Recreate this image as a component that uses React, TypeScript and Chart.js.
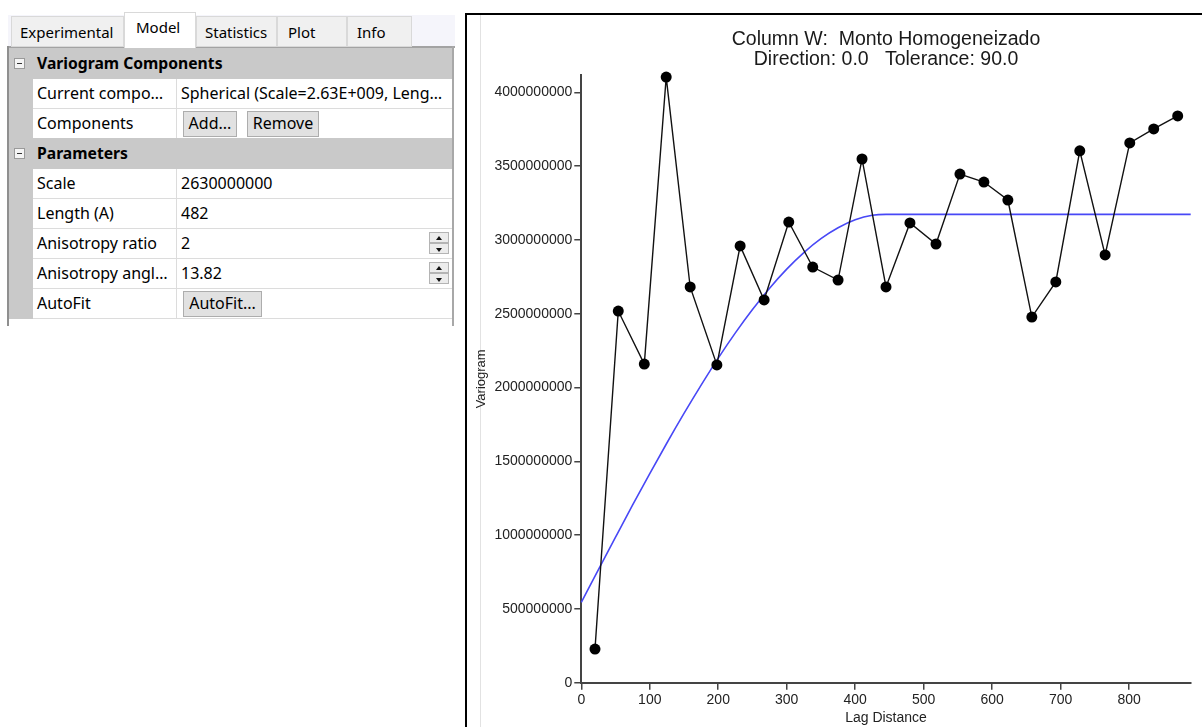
import React, { useEffect, useRef } from 'react';
import { Chart, registerables } from 'chart.js';

Chart.register(...registerables);

// ---- data ----
const lagDistance = [20, 54, 92, 124, 159, 198, 232, 267, 303, 338, 375, 410, 445, 480, 518, 553, 588, 623, 658, 693, 728, 765, 801, 836, 871];
const variogramValues = [
  228000000, 2518000000, 2159000000, 4103000000, 2681000000, 2153000000, 2959000000, 2593000000,
  3121000000, 2816000000, 2728000000, 3548000000, 2681000000, 3115000000, 2972000000, 3446000000,
  3392000000, 3270000000, 2477000000, 2715000000, 3603000000, 2898000000, 3657000000, 3752000000, 3840000000,
];
const modelLag = [0, 25, 50, 75, 100, 125, 150, 175, 200, 225, 250, 275, 300, 325, 350, 375, 400, 425, 445, 890];
const modelValues = [
  545000000, 766000000, 986000000, 1204000000, 1417000000, 1624000000, 1824000000, 2016000000, 2199000000,
  2370000000, 2528000000, 2673000000, 2802000000, 2914000000, 3008000000, 3082000000, 3136000000, 3167000000,
  3173000000, 3173000000,
];
const xTickValues = [0, 100, 200, 300, 400, 500, 600, 700, 800];
const yTickValues = [0, 500000000, 1000000000, 1500000000, 2000000000, 2500000000, 3000000000, 3500000000, 4000000000];
const titleLines = ['Column W:  Monto Homogeneizado', 'Direction: 0.0   Tolerance: 90.0'];
const xTitle = 'Lag Distance';
const yTitle = 'Variogram';

const tabs = [
  { label: 'Experimental', left: 11, width: 113, textLeft: 8 },
  { label: 'Model', left: 124, width: 72, textLeft: 11, selected: true },
  { label: 'Statistics', left: 196, width: 81, textLeft: 8 },
  { label: 'Plot', left: 277, width: 70, textLeft: 10 },
  { label: 'Info', left: 347, width: 65, textLeft: 9 },
];

type Row =
  | { kind: 'cat'; label: string }
  | { kind: 'row'; label: string; value?: string; buttons?: { text: string; width: number; gap?: number }[]; spinner?: boolean };

const gridRows: Row[] = [
  { kind: 'cat', label: 'Variogram Components' },
  { kind: 'row', label: 'Current compo\u2026', value: 'Spherical (Scale=2.63E+009, Leng\u2026' },
  { kind: 'row', label: 'Components', buttons: [{ text: 'Add...', width: 54 }, { text: 'Remove', width: 72, gap: 10 }] },
  { kind: 'cat', label: 'Parameters' },
  { kind: 'row', label: 'Scale', value: '2630000000' },
  { kind: 'row', label: 'Length (A)', value: '482' },
  { kind: 'row', label: 'Anisotropy ratio', value: '2', spinner: true },
  { kind: 'row', label: 'Anisotropy angl\u2026', value: '13.82', spinner: true },
  { kind: 'row', label: 'AutoFit', buttons: [{ text: 'AutoFit...', width: 79 }] },
];

const UI_FONT = '"Noto Sans", "Open Sans", sans-serif';
const CH_FONT = '"Liberation Sans", Arial, sans-serif';

const titlePlugin = {
  id: 'variogramTitle',
  afterDraw(chart: any) {
    const { ctx, chartArea } = chart;
    const cx = (chartArea.left + chartArea.right) / 2;
    ctx.save();
    ctx.fillStyle = '#1a1a1a';
    ctx.font = `19.5px ${CH_FONT}`;
    ctx.textAlign = 'center';
    ctx.textBaseline = 'alphabetic';
    ctx.fillText(titleLines[0], cx, 30);
    ctx.fillText(titleLines[1], cx, 50);
    ctx.restore();
  },
};

function VariogramChart() {
  const ref = useRef<HTMLCanvasElement | null>(null);
  useEffect(() => {
    if (!ref.current) return;
    const tickFont = { family: CH_FONT, size: 14 };
    const chart = new Chart(ref.current, {
      type: 'scatter',
      data: {
        datasets: [
          {
            label: 'Experimental',
            data: lagDistance.map((x, i) => ({ x, y: variogramValues[i] })),
            showLine: true,
            borderColor: '#111',
            borderWidth: 1.4,
            pointRadius: 5.5,
            pointBackgroundColor: '#000',
            pointBorderColor: '#000',
            pointBorderWidth: 0,
            clip: false as any,
          },
          {
            label: 'Model',
            data: modelLag.map((x, i) => ({ x, y: modelValues[i] })),
            showLine: true,
            borderColor: '#4848f6',
            borderWidth: 1.6,
            pointRadius: 0,
            cubicInterpolationMode: 'monotone',
            clip: false as any,
          },
        ],
      },
      options: {
        animation: false,
        responsive: false,
        maintainAspectRatio: false,
        layout: { padding: { top: 60, right: 11.3, left: 0, bottom: 0 } },
        plugins: { legend: { display: false }, tooltip: { enabled: false }, title: { display: false } },
        scales: {
          x: {
            type: 'linear',
            min: 0,
            max: 890,
            afterFit: (s: any) => { s.height = 44.3; },
            afterBuildTicks: (s: any) => { s.ticks = xTickValues.map((v) => ({ value: v })); },
            grid: { drawOnChartArea: false, drawTicks: true, tickLength: 7, color: '#444', lineWidth: 1.5 },
            border: { display: true, color: '#444', width: 2 },
            ticks: { font: tickFont, color: '#222', padding: 2, maxRotation: 0, autoSkip: false, callback: (v: any) => String(v) },
            title: { display: true, text: xTitle, font: { family: CH_FONT, size: 14 }, color: '#222', padding: { top: 0, bottom: 0.5 } },
          },
          y: {
            type: 'linear',
            min: 0,
            max: 4117000000,
            afterFit: (s: any) => { s.width = 114.3; },
            afterBuildTicks: (s: any) => { s.ticks = yTickValues.map((v) => ({ value: v })); },
            grid: { drawOnChartArea: false, drawTicks: true, tickLength: 7, color: '#444', lineWidth: 1.5 },
            border: { display: true, color: '#444', width: 2 },
            ticks: { font: tickFont, color: '#222', padding: 2, autoSkip: false, callback: (v: any) => String(v) },
            title: { display: true, text: yTitle, font: { family: CH_FONT, size: 13 }, color: '#222', padding: { top: 6.2, bottom: 0 } },
          },
        },
      },
      plugins: [titlePlugin],
    } as any);
    return () => chart.destroy();
  }, []);
  return (
    <canvas
      ref={ref}
      width={735}
      height={712}
      style={{ position: 'absolute', left: 467, top: 15, width: 735, height: 712 }}
    />
  );
}

function Spinner({ top }: { top: number }) {
  const half = (up: boolean, t: number) => (
    <div
      style={{
        position: 'absolute', left: 429, top: t, width: 20, height: 11,
        background: '#ececec', border: '1px solid #b4b4b4', boxSizing: 'border-box',
      }}
    >
      <div
        style={{
          position: 'absolute', left: 6, top: up ? 3 : 4, width: 0, height: 0,
          borderLeft: '3.5px solid transparent', borderRight: '3.5px solid transparent',
          ...(up ? { borderBottom: '4px solid #111' } : { borderTop: '4px solid #111' }),
        }}
      />
    </div>
  );
  return (
    <>
      {half(true, top + 3)}
      {half(false, top + 14)}
    </>
  );
}

function PropertyPanel() {
  const gridTop = 49;
  const rowH = 30;
  const fs = 16;
  return (
    <>
      {/* tab strip */}
      <div style={{ position: 'absolute', left: 8, top: 15, width: 447, height: 32, background: '#f5f5fb' }} />
      {tabs.map((t) => (
        <div
          key={t.label}
          style={{
            position: 'absolute', left: t.left, top: t.selected ? 12 : 16, width: t.width,
            height: t.selected ? 36 : 31, boxSizing: 'border-box',
            background: t.selected ? '#ffffff' : '#f0f0f0',
            border: '1px solid #d9d9d9', borderBottom: t.selected ? 'none' : '1px solid #d9d9d9',
            zIndex: t.selected ? 2 : 1,
          }}
        >
          <div style={{ position: 'absolute', left: t.textLeft, top: t.selected ? 4 : 5, fontSize: 15, lineHeight: '20px', color: '#000', whiteSpace: 'nowrap' }}>
            {t.label}
          </div>
        </div>
      ))}
      {/* grid frame */}
      <div style={{ position: 'absolute', left: 8, top: 46, width: 447, height: 2, background: '#a3a3a3' }} />
      <div style={{ position: 'absolute', left: 7, top: 46, width: 2, height: 280, background: '#8f8f8f' }} />
      <div style={{ position: 'absolute', left: 452, top: 46, width: 2, height: 280, background: '#a8a8a8' }} />
      <div style={{ position: 'absolute', left: 9, top: 48, width: 24, height: 271, background: '#c9c9c9' }} />
      {gridRows.map((r, i) => {
        const top = gridTop + i * rowH;
        if (r.kind === 'cat') {
          return (
            <div key={i} style={{ position: 'absolute', left: 9, top: top - 1, width: 443, height: rowH + 1, background: '#c9c9c9' }}>
              <div
                style={{
                  position: 'absolute', left: 5, top: 10, width: 11, height: 11, boxSizing: 'border-box',
                  border: '1px solid #9a9a9a', background: '#f4f4f4',
                }}
              >
                <div style={{ position: 'absolute', left: 2, top: 4, width: 5, height: 1, background: '#333' }} />
              </div>
              <div style={{ position: 'absolute', left: 28, top: 5, fontSize: 15.7, fontWeight: 700, lineHeight: '20px', color: '#000', whiteSpace: 'nowrap' }}>
                {r.label}
              </div>
            </div>
          );
        }
        let bx = 183;
        return (
          <React.Fragment key={i}>
            <div style={{ position: 'absolute', left: 33, top, width: 143, height: rowH - 1, background: '#fff' }}>
              <div style={{ position: 'absolute', left: 4, top: 4, fontSize: fs, lineHeight: '21px', color: '#000', whiteSpace: 'nowrap' }}>{r.label}</div>
            </div>
            <div style={{ position: 'absolute', left: 176, top, width: 1, height: rowH - 1, background: '#dcdcdc' }} />
            <div style={{ position: 'absolute', left: 177, top, width: 275, height: rowH - 1, background: '#fff' }}>
              {r.value && (
                <div style={{ position: 'absolute', left: 4, top: 4, fontSize: fs, lineHeight: '21px', color: '#000', whiteSpace: 'nowrap' }}>{r.value}</div>
              )}
            </div>
            <div style={{ position: 'absolute', left: 33, top: top + rowH - 1, width: 419, height: 1, background: '#dcdcdc' }} />
            {r.buttons &&
              r.buttons.map((b, j) => {
                bx += b.gap || 0;
                const left = bx;
                bx += b.width;
                return (
                  <div
                    key={j}
                    style={{
                      position: 'absolute', left, top: top + 2, width: b.width, height: 26, boxSizing: 'border-box',
                      background: '#e1e1e1', border: '1px solid #adadad', fontSize: fs, lineHeight: '23px',
                      textAlign: 'center', color: '#000', whiteSpace: 'nowrap',
                    }}
                  >
                    {b.text}
                  </div>
                );
              })}
            {r.spinner && <Spinner top={top} />}
          </React.Fragment>
        );
      })}
      <div style={{ position: 'absolute', left: 9, top: 319, width: 443, height: 6, background: '#fff' }} />
    </>
  );
}

export default function App() {
  return (
    <div
      style={{
        position: 'absolute', left: 0, top: 0, width: 1202, height: 727, overflow: 'hidden',
        background: '#ffffff', fontFamily: UI_FONT,
      }}
    >
      <PropertyPanel />
      {/* plot frame */}
      <div style={{ position: 'absolute', left: 465, top: 13, width: 900, height: 900, borderLeft: '2px solid #000', borderTop: '2px solid #000' }} />
      <div style={{ position: 'absolute', left: 480, top: 15, width: 1, height: 712, background: '#e2e2e2' }} />
      <VariogramChart />
    </div>
  );
}
